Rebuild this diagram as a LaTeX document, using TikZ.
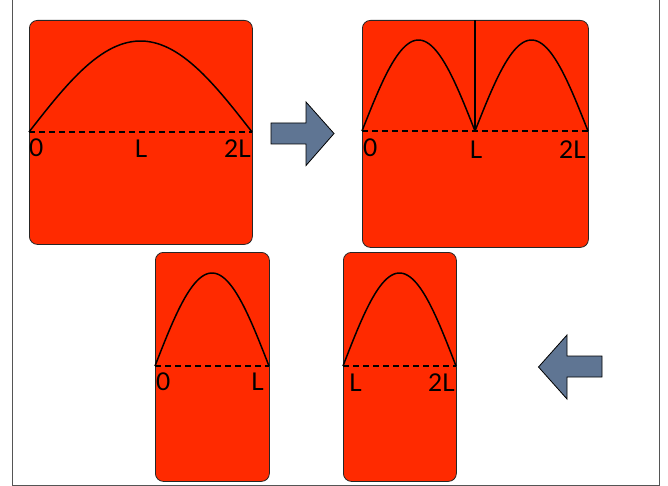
\documentclass[tikz,border=0pt]{standalone}
\usepackage{fontspec}
\setmainfont{Lato}
\usepackage{xcolor}
\usepackage{tikz}
\usetikzlibrary{positioning}
\definecolor{sheet}{HTML}{FF2A00}
\definecolor{slate}{HTML}{5F7593}
\definecolor{frame}{HTML}{555555}

\begin{document}
\begin{tikzpicture}[x=1pt, y=-1pt,
  panel/.style={rectangle, draw=black!85, fill=sheet, rounded corners=8pt,
    line width=0.8pt, anchor=north west, inner sep=0pt},
  wave/.style={line width=1.5pt, line join=round},
  axis/.style={line width=1.4pt, dash pattern=on 6pt off 4pt},
  lbl/.style={font=\fontsize{24.5}{28}\selectfont, inner sep=0pt},
  pointer/.style={fill=slate, draw=black, line width=0.8pt, line join=miter},
]
  \useasboundingbox (0,0) rectangle (668,486);
  \draw[frame, line width=0.8pt] (12,0) -- (12,485) -- (659,485) -- (659,0);

  \node[panel, minimum width=223pt, minimum height=224pt] (full)  at (29,20)  {};
  \node[panel, minimum width=226pt, minimum height=227pt] (split) at (362,20) {};
  \node[panel, minimum width=114pt, minimum height=229pt] (left)  at (155,252) {};
  \node[panel, minimum width=113pt, minimum height=229pt] (right) at (343,252) {};

  \draw[axis] (29,132) -- (252,132);
  \draw[wave] plot[domain=29:252, samples=60] (\x, {132-91*sin((\x-29)/223*180)});
  \node[lbl, anchor=base west] (f0) at (29,157)  {0};
  \node[lbl, anchor=base]      (fL) at (141,158) {L};
  \node[lbl, anchor=base east] (f2) at (251,158) {2L};

  \coordinate (mid) at (475,131);
  \draw[axis] (362,131) -- (588,131);
  \draw[wave] plot[domain=362:475, samples=50] (\x, {131-91*sin((\x-362)/113*180)});
  \draw[wave] plot[domain=475:588, samples=50] (\x, {131-91*sin((\x-475)/113*180)});
  \draw[wave] (mid) -- (mid |- split.north);
  \node[lbl, anchor=base west] (s0) at (363,157) {0};
  \node[lbl, anchor=base]      (sL) at (476,159) {L};
  \node[lbl, anchor=base east] (s2) at (586,159) {2L};

  \draw[axis] (155,366) -- (269,366);
  \draw[wave] plot[domain=155:269, samples=50] (\x, {366-93*sin((\x-155)/114*180)});
  \node[lbl, anchor=base west] (l0) at (156,390) {0};
  \node[lbl, anchor=base east] (lL) at (264,390) {L};

  \draw[axis] (343,366) -- (456,366);
  \draw[wave] plot[domain=343:456, samples=50] (\x, {366-93*sin((\x-343)/113*180)});
  \node[lbl, anchor=base west] (rL) at (349,391) {L};
  \node[lbl, anchor=base east] (r2) at (455,391) {2L};

  \draw[pointer] (271,123) -- (306,123) -- (306,102) -- (334,133.5)
    -- (306,165.5) -- (306,144) -- (271,144) -- cycle;
  \draw[pointer] (602,356) -- (567,356) -- (567,335) -- (538.5,367)
    -- (567,399) -- (567,377) -- (602,377) -- cycle;
\end{tikzpicture}
\end{document}
